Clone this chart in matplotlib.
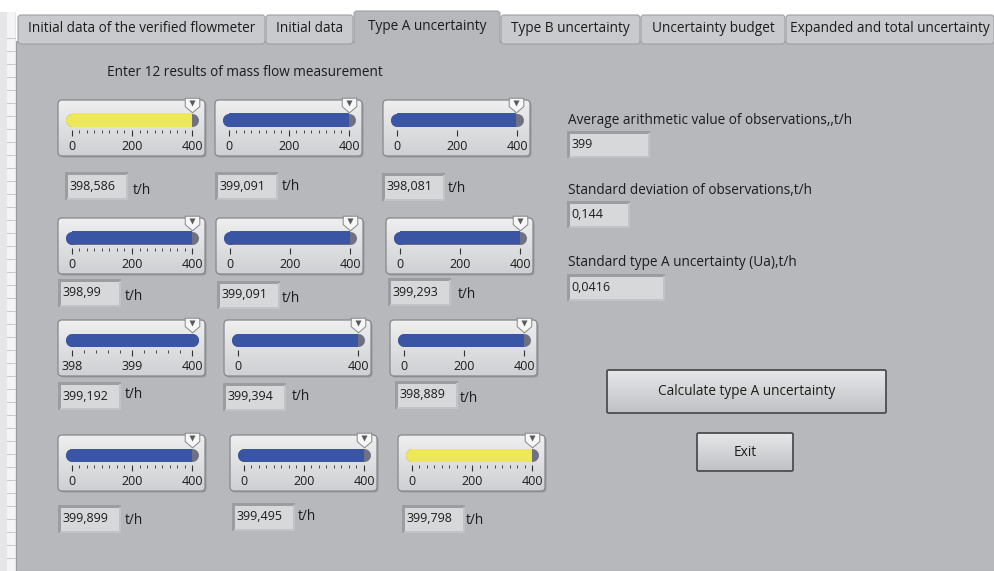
import numpy as np
import matplotlib
matplotlib.use("Agg")
import matplotlib.pyplot as plt
from matplotlib.patches import FancyBboxPatch, Rectangle
from matplotlib.path import Path
from matplotlib.colors import LinearSegmentedColormap
from matplotlib.ticker import MultipleLocator, NullLocator

plt.rcParams['font.family'] = ['Open Sans', 'DejaVu Sans']

W, H = 995, 571

# --- data ---
tab_names = ["Initial data of the verified flowmeter", "Initial data", "Type A uncertainty",
             "Type B uncertainty", "Uncertainty budget", "Expanded and total uncertainty"]
active_tab = 2
title = "Enter 12 results of mass flow measurement"
readings = [398.586, 399.091, 398.081, 398.99, 399.091, 399.293,
            399.192, 399.394, 398.889, 399.899, 399.495, 399.798]
slider_pos = [398.586, 399.091, 398.081, 398.99, 399.091, 399.293,
              400.0, 399.394, 398.889, 399.899, 399.495, 399.798]
scale_lo = [0, 0, 0, 0, 0, 0, 398, 0, 0, 0, 0, 0]
scale_hi = [400] * 12
major_ticks = [[0, 200, 400], [0, 200, 400], [0, 200, 400], [0, 200, 400], [0, 200, 400], [0, 200, 400],
               [398, 399, 400], [0, 400], [0, 200, 400], [0, 200, 400], [0, 200, 400], [0, 200, 400]]
minor_step = [25, 25, 0, 25, 0, 0, 0.2, 0, 0, 25, 25, 25]
unit = "t/h"
result_labels = ["Average arithmetic value of observations,,t/h",
                 "Standard deviation of observations,t/h",
                 "Standard type A uncertainty (Ua),t/h"]
result_values = [399, 0.144, 0.0416]
button_names = ["Calculate type A uncertainty", "Exit"]

# --- layout (pixels, top-left origin) ---
tab_x = [18, 266, 354, 501, 641, 786, 995]
gauge_xy = [(58, 100), (215, 100), (383, 100), (58, 218), (216, 218), (386, 218),
            (58, 320), (224, 320), (390, 320), (58, 435), (230, 435), (398, 435)]
vbox_xy = [(65, 172), (215, 172), (382, 173), (58, 279), (217, 281), (388, 278),
           (58, 382), (223, 383), (395, 381), (58, 505), (232, 503), (402, 505)]
unit_xy = [(133, 190), (282, 186), (448, 188), (125, 296), (282, 298), (458, 295),
           (125, 394), (292, 397), (460, 398), (125, 520), (298, 517), (466, 520)]
result_y = [120, 190, 263]
result_box = [(567, 131, 83), (567, 201, 63), (567, 274, 98)]
button_box = [(607, 370, 279, 43), (697, 433, 96, 38)]

panel = '#b7b8bc'
txt = '#1c1c1c'
blue = '#3a55a4'
yellow = '#ece85a'
track = '#6f7080'
fill_colors = [yellow] + [blue] * 10 + [yellow]
FS = 9.8     # labels, tabs, buttons
FN = 9.0     # numbers

fig = plt.figure(figsize=(W / 100, H / 100), dpi=100, facecolor='white')
bg = fig.add_axes([0, 0, 1, 1])
bg.set_xlim(0, W)
bg.set_ylim(H, 0)
bg.axis('off')


def rbox(x, y, w, h, r):
    return FancyBboxPatch((x, y), w, h, boxstyle=f"round,pad=0,rounding_size={r}")


def grad_box(x, y, w, h, top, bottom, edge, r=4, lw=0.9, shadow=True):
    if shadow:
        s = rbox(x + 1.5, y + 1.5, w, h, r)
        s.set_facecolor('#8c8d91')
        s.set_edgecolor('none')
        s.set_alpha(0.7)
        s.set_zorder(1)
        bg.add_patch(s)
    p = rbox(x, y, w, h, r)
    p.set_facecolor('none')
    p.set_edgecolor(edge)
    p.set_linewidth(lw)
    p.set_zorder(3)
    bg.add_patch(p)
    cmap = LinearSegmentedColormap.from_list('g', [top, bottom])
    im = bg.imshow(np.linspace(0, 1, 64).reshape(-1, 1), cmap=cmap, extent=(x, x + w, y + h, y),
                   aspect='auto', zorder=2, interpolation='bilinear')
    im.set_clip_path(p)


def sunken(x, y, w, h, s):
    bg.add_patch(Rectangle((x, y), w, h, fc='#9c9da1', ec='none', zorder=2))
    bg.add_patch(Rectangle((x + w - 2, y + 2), 2, h - 2, fc='#c2c3c6', ec='none', zorder=2))
    bg.add_patch(Rectangle((x + 2, y + h - 2), w - 2, 2, fc='#c2c3c6', ec='none', zorder=2))
    bg.add_patch(Rectangle((x + 3, y + 3), w - 5, h - 5, fc='#d7d8da', ec='none', zorder=3))
    bg.text(x + 4.5, y + h / 2, s, fontsize=FN, color=txt, va='center', ha='left', zorder=4)


def fmt(v):
    return str(v).replace('.', ',')


# panel and left strip
bg.add_patch(Rectangle((16, 41), W - 16, H - 41, fc=panel, ec='#9a9b9f', lw=0.8, zorder=0))
bg.add_patch(Rectangle((0, 12), 16, H - 12, fc='#e6e6e8', ec='none', zorder=0))
bg.add_patch(Rectangle((7, 12), 8, H - 12, fc='#f4f4f5', ec='none', zorder=0))
for yy in range(38, H, 13):
    bg.plot([7, 15], [yy, yy], color='#c8c8cc', lw=0.7, zorder=0)

# tabs
for i, name in enumerate(tab_names):
    x0, x1 = tab_x[i], tab_x[i + 1] - 1
    if i == active_tab:
        top = 11
        fc = panel
    else:
        top = 15
        fc = '#c9cacd'
    t = rbox(x0, top, x1 - x0, 41 - top + 3, 3)
    t.set_facecolor(fc)
    t.set_edgecolor('#9fa0a4')
    t.set_linewidth(0.8)
    t.set_zorder(1 if i != active_tab else 2)
    bg.add_patch(t)
    if i == active_tab:
        bg.add_patch(Rectangle((x0 + 0.6, 40), x1 - x0 - 1.2, 5, fc=panel, ec='none', zorder=2))
    bg.text((x0 + x1) / 2, (top + 41) / 2 + 0.5, name, fontsize=FS, color=txt,
            ha='center', va='center', zorder=3)

bg.text(107, 72, title, fontsize=FS, color=txt, ha='left', va='center')

# gauges
gw, gh = 147, 56
pointer = Path([(-1, 1), (1, 1), (1, -0.15), (0, -1), (-1, -0.15), (-1, 1)],
               [Path.MOVETO] + [Path.LINETO] * 4 + [Path.CLOSEPOLY])
for i in range(12):
    x0, y0 = gauge_xy[i]
    grad_box(x0, y0, gw, gh, '#efeff0', '#cfd0d3', '#86878b', r=4)
    ax = fig.add_axes([(x0 + 14) / W, 1 - (y0 + 30) / H, 120 / W, 20 / H])
    ax.set_facecolor('none')
    for sp in ax.spines.values():
        sp.set_visible(False)
    lo, hi, v = scale_lo[i], scale_hi[i], slider_pos[i]
    ax.set_xlim(lo, hi)
    ax.set_ylim(0, 20)
    ax.yaxis.set_visible(False)
    lw = 13 * 0.72
    ax.plot([lo, hi], [10, 10], color=track, lw=lw, solid_capstyle='round', clip_on=False, zorder=1)
    ax.barh(10, v - lo, left=lo, height=13, color=fill_colors[i], lw=0, zorder=2)
    ax.plot([lo], [10], 'o', ms=lw, color=fill_colors[i], mew=0, clip_on=False, zorder=2)
    if v >= hi:
        ax.plot([hi], [10], 'o', ms=lw, color=fill_colors[i], mew=0, clip_on=False, zorder=2)
    ax.plot([v], [24.8], marker=pointer, ms=10.5, mfc='#f6f6f6', mec='#85868a', mew=0.7,
            clip_on=False, zorder=4)
    ax.plot([v], [26.8], marker='v', ms=4.2, mfc='#5a5a5a', mec='none', clip_on=False, zorder=5)
    ax.set_xticks(major_ticks[i])
    ax.set_xticklabels([str(t) for t in major_ticks[i]])
    if minor_step[i]:
        ax.xaxis.set_minor_locator(MultipleLocator(minor_step[i]))
    else:
        ax.xaxis.set_minor_locator(NullLocator())
    ax.tick_params(axis='x', which='major', direction='out', length=4.2, width=0.8,
                   color='#333333', labelsize=FN, labelcolor=txt, pad=3.2)
    ax.tick_params(axis='x', which='minor', direction='out', length=2.2, width=0.7, color='#444444')

    vx, vy = vbox_xy[i]
    sunken(vx, vy, 63, 28, fmt(readings[i]))
    ux, uy = unit_xy[i]
    bg.text(ux, uy, unit, fontsize=FS, color=txt, ha='left', va='center')

# results on the right
for lab, ly, val, (bx, by, bw) in zip(result_labels, result_y, result_values, result_box):
    bg.text(568, ly, lab, fontsize=FS, color=txt, ha='left', va='center')
    sunken(bx, by, bw, 27, fmt(val))

# buttons
for name, (bx, by, bw, bh) in zip(button_names, button_box):
    grad_box(bx, by, bw, bh, '#e6e7e9', '#c0c1c4', '#4d4d4f', r=1.5, lw=1.3, shadow=False)
    bg.text(bx + bw / 2, by + bh / 2, name, fontsize=FS, color=txt, ha='center', va='center', zorder=5)

bg.set_xlim(0, W)
bg.set_ylim(H, 0)
fig.savefig('out.png', dpi=100, facecolor='white')
